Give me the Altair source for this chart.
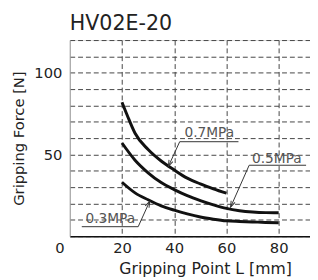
import altair as alt
import pandas as pd

# Curves (Gripping point L [mm] vs gripping force [N])
L07 = [20, 22, 25, 30, 35, 40, 45, 50, 55, 60]
F07 = [82, 74, 63, 53, 46, 40.5, 35.5, 32, 29, 26.3]
L05 = [20, 25, 30, 35, 40, 45, 50, 55, 60, 65, 70, 75, 80]
F05 = [57, 46.5, 38.8, 32.8, 28.5, 24.8, 21.8, 19.2, 17, 15.6, 14.8, 14.4, 14.3]
L03 = [20, 25, 30, 35, 40, 45, 50, 55, 60, 65, 70, 75, 80]
F03 = [33, 26.5, 22.3, 18.6, 15.9, 13.6, 11.7, 10.4, 9.4, 9.0, 8.7, 8.4, 8.2]

# Axis ticks
x_ticks = [20, 40, 60, 80]
y_ticks = [0, 10, 20, 30, 40, 50, 60, 70, 80, 90, 100, 110, 120]

# Annotations
ann_text = ["0.7MPa", "0.5MPa", "0.3MPa"]
ann_tx = [43.9, 69.8, 6.0]          # text left
ann_ty = [60.6, 44.8, 7.8]          # text baseline
ann_lx1 = [42.1, 68.7, 4.6]         # underline start
ann_lx2 = [64.6, 90.5, 26.2]        # underline end
ann_ly = [57.8, 43.4, 5.8]          # underline level
ann_kx = [42.1, 68.7, 26.2]         # leader start (on underline)
ann_tipx = [37.8, 61.6, 30.6]       # arrow tip
ann_tipy = [42.8, 17.8, 21.3]
ann_ang = [204, 204, 25]

FONT = "DejaVu Sans"

curves = pd.DataFrame(
    [{"L": l, "F": f, "p": "0.7MPa"} for l, f in zip(L07, F07)]
    + [{"L": l, "F": f, "p": "0.5MPa"} for l, f in zip(L05, F05)]
    + [{"L": l, "F": f, "p": "0.3MPa"} for l, f in zip(L03, F03)]
)

ann = pd.DataFrame({
    "t": ann_text, "tx": ann_tx, "ty": ann_ty,
    "lx1": ann_lx1, "lx2": ann_lx2, "ly": ann_ly,
    "kx": ann_kx, "tipx": ann_tipx, "tipy": ann_tipy, "ang": ann_ang,
})

xscale = alt.Scale(domain=[0, 92], nice=False, zero=False)
yscale = alt.Scale(domain=[0, 120], nice=False, zero=True)

xaxis = alt.Axis(
    title="Gripping Point L  [mm]", values=x_ticks, ticks=False,
    grid=True, gridDash=[5, 3], gridColor="#444", gridWidth=1,
    domainColor="#111", domainWidth=1.5,
    labelFont=FONT, labelFontSize=15, labelColor="#222", labelPadding=5,
    titleFont=FONT, titleFontSize=16, titleFontWeight="normal", titleColor="#222",
    titlePadding=5, titleX=138,
)
yaxis = alt.Axis(
    title="Gripping Force [N]", values=y_ticks, ticks=False,
    labelExpr="(datum.value == 50 || datum.value == 100) ? datum.label : ''",
    grid=True, gridDash=[5, 3], gridColor="#444", gridWidth=1,
    domainColor="#999", domainWidth=1,
    labelFont=FONT, labelFontSize=15, labelColor="#222", labelPadding=8,
    titleFont=FONT, titleFontSize=15, titleFontWeight="normal", titleColor="#222",
    titlePadding=8,
)


def X(field):
    return alt.X(field, scale=xscale, axis=xaxis)


def Y(field):
    return alt.Y(field, scale=yscale, axis=yaxis)


lines = alt.Chart(curves).mark_line(
    color="#111", strokeWidth=3, interpolate="monotone"
).encode(x=X("L:Q"), y=Y("F:Q"), detail="p:N")

base = alt.Chart(ann)
under = base.mark_rule(color="#333", strokeWidth=1).encode(
    x=X("lx1:Q"), x2="lx2:Q", y=Y("ly:Q"), y2="ly:Q",
)
leader = base.mark_rule(color="#333", strokeWidth=1).encode(
    x=X("kx:Q"), x2="tipx:Q", y=Y("ly:Q"), y2="tipy:Q",
)
heads = base.mark_point(
    shape="M -0.35 1 L 0 0 L 0.35 1", filled=False, color="#333",
    strokeWidth=1, size=150, opacity=1,
).encode(
    x=X("tipx:Q"), y=Y("tipy:Q"), angle=alt.Angle("ang:Q", scale=None),
)
labels = base.mark_text(
    align="left", baseline="alphabetic", font=FONT, fontSize=14, color="#555"
).encode(x=X("tx:Q"), y=Y("ty:Q"), text="t:N")

origin = alt.Chart(pd.DataFrame({"x": [0], "y": [0], "t": ["0"]})).mark_text(
    font=FONT, fontSize=15, color="#222", baseline="top", align="center", dx=-10, dy=5
).encode(x=X("x:Q"), y=Y("y:Q"), text="t:N")

chart = alt.layer(lines, under, leader, heads, labels, origin).properties(
    width=245, height=200,
    title=alt.TitleParams(
        "HV02E-20", anchor="start", frame="group", font=FONT, fontSize=21,
        fontWeight="normal", color="#222", offset=7, dy=1,
    ),
    autosize=alt.AutoSizeParams(type="none"),
    padding={"left": 63, "top": 30, "right": 0, "bottom": 42},
).configure_view(
    fill="#e8e8e8", stroke=None
).configure(background="white")

chart.save("out.html", embed_options={"renderer": "svg", "actions": False})
